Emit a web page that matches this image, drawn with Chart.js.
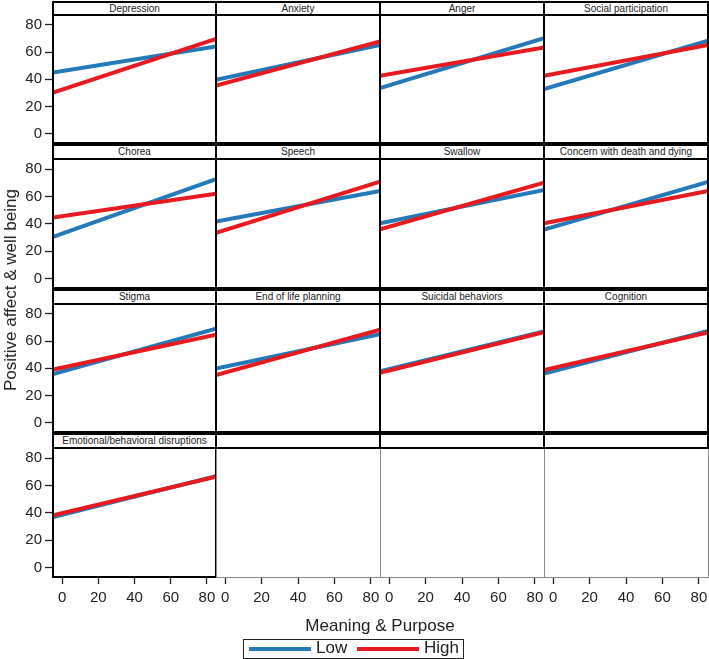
<!DOCTYPE html>
<html>
<head>
<meta charset="utf-8">
<script src="https://cdn.jsdelivr.net/npm/chart.js@4/dist/chart.umd.min.js"></script>
<style>
  html, body { margin: 0; padding: 0; background: #fff; }
  #wrap { position: relative; width: 709px; height: 659px; overflow: hidden; font-family: "Liberation Sans", Arial, sans-serif; color: #222; }
  canvas { position: absolute; }
  .box { position: absolute; box-sizing: border-box; }
  .strip { position: absolute; box-sizing: border-box; border: 2px solid #000; background: #fff; font-size: 10px; text-align: center; line-height: 11px; color: #222; white-space: nowrap; overflow: hidden; }
  .txt { position: absolute; white-space: nowrap; color: #222; }
</style>
</head>
<body>
<div id="wrap"></div>
<script>
// ---------- data ----------
const panels = ["Depression", "Anxiety", "Anger", "Social participation",
  "Chorea", "Speech", "Swallow", "Concern with death and dying",
  "Stigma", "End of life planning", "Suicidal behaviors", "Cognition",
  "Emotional/behavioral disruptions"];
const xEnds = [-5, 85];           // Meaning & Purpose at the panel edges
const lowLeft   = [45.0, 39.6, 33.5, 32.8, 30.5, 41.6, 40.4, 35.9, 35.7, 39.9, 37.8, 36.2, 36.9];
const lowRight  = [64.1, 65.3, 70.2, 68.5, 72.6, 63.9, 64.7, 70.6, 69.2, 65.1, 67.2, 67.5, 66.8];
const highLeft  = [30.3, 35.5, 42.6, 42.6, 44.6, 33.5, 36.0, 40.4, 39.2, 35.0, 36.7, 38.7, 38.2];
const highRight = [69.7, 67.8, 63.4, 65.3, 62.0, 70.8, 70.1, 63.9, 64.8, 68.5, 66.5, 66.3, 66.3];
const xTicks = [0, 20, 40, 60, 80];
const yTicks = [0, 20, 40, 60, 80];
const seriesNames = ["Low", "High"];

// ---------- layout ----------
const BLUE = "#2479b8", RED = "#e8191f";
const colL = [53, 216, 380, 544], colR = [216, 380, 544, 708];
const stripT = [1, 144, 289, 433];
const plotT = [15, 159, 304, 448], plotB = [143, 288, 432, 577];
const canvasBottom = 612;
const wrap = document.getElementById("wrap");
const FONT = { family: "'Liberation Sans', Arial, sans-serif", size: 15 };

function addDiv(cls, l, t, w, h, style, text) {
  const d = document.createElement("div");
  d.className = cls;
  d.style.left = l + "px"; d.style.top = t + "px";
  d.style.width = w + "px"; d.style.height = h + "px";
  if (style) Object.assign(d.style, style);
  if (text !== undefined) d.textContent = text;
  wrap.appendChild(d);
  return d;
}

for (let r = 0; r < 4; r++) {
  for (let c = 0; c < 4; c++) {
    const i = r * 4 + c;
    const hasData = i < panels.length;
    const showY = c === 0, showX = r === 3;
    const cl = showY ? 0 : colL[c];
    const ct = plotT[r];
    const cw = colR[c] - cl;
    const ch = (showX ? canvasBottom : plotB[r]) - ct;
    const cv = document.createElement("canvas");
    cv.width = cw; cv.height = ch;
    cv.style.left = cl + "px"; cv.style.top = ct + "px";
    cv.style.width = cw + "px"; cv.style.height = ch + "px";
    wrap.appendChild(cv);

    const datasets = hasData ? [
      { label: seriesNames[0], data: [{x: xEnds[0], y: lowLeft[i]}, {x: xEnds[1], y: lowRight[i]}],
        borderColor: BLUE, borderWidth: 4, pointRadius: 0, clip: 0, order: 2 },
      { label: seriesNames[1], data: [{x: xEnds[0], y: highLeft[i]}, {x: xEnds[1], y: highRight[i]}],
        borderColor: RED, borderWidth: 4, pointRadius: 0, clip: 0, order: 1 }
    ] : [];

    new Chart(cv, {
      type: "line",
      data: { datasets },
      options: {
        responsive: false, animation: false, devicePixelRatio: 1,
        layout: { padding: 0 },
        plugins: { legend: { display: false }, tooltip: { enabled: false } },
        scales: {
          x: {
            type: "linear", min: -5, max: 85, display: showX,
            afterBuildTicks: s => { s.ticks = xTicks.map(v => ({ value: v })); },
            afterFit: s => {
              if (showX) s.height = canvasBottom - plotB[r];
              s.paddingLeft = 0; s.paddingRight = 0;
            },
            grid: { drawOnChartArea: false, drawTicks: true, tickLength: 7, tickColor: "#222", tickWidth: 1.3 },
            border: { display: false },
            ticks: { font: FONT, color: "#222", padding: 5, maxRotation: 0, autoSkip: false }
          },
          y: {
            type: "linear", min: -6.8, max: 87.3, display: showY,
            afterBuildTicks: s => { s.ticks = yTicks.map(v => ({ value: v })); },
            afterFit: s => {
              if (showY) s.width = colL[0];
              s.paddingTop = 0; s.paddingBottom = 0;
            },
            grid: { drawOnChartArea: false, drawTicks: true, tickLength: 8, tickColor: "#222", tickWidth: 1.3 },
            border: { display: false },
            ticks: { font: FONT, color: "#222", padding: 3, autoSkip: false }
          }
        }
      }
    });

    // panel frame
    const w = colR[c] - colL[c], h = plotB[r] - plotT[r];
    if (hasData) {
      addDiv("box", colL[c] - 1, plotT[r] - 1, w + 2, h + 2, { border: "2px solid #000" });
    } else {
      addDiv("box", colL[c], plotT[r], w + 1, h + 1, { border: "1px solid #888" });
    }
    // strip
    addDiv("strip", colL[c] - 1, stripT[r], w + 2, plotT[r] - stripT[r] + 1, null, hasData ? panels[i] : "");
  }
}

// axis titles
addDiv("txt", 0, 0, 0, 0, { fontSize: "17px", left: "11px", top: "290px", width: "auto", height: "auto",
  transform: "translate(-50%, -50%) rotate(-90deg)" }, "Positive affect & well being");
addDiv("txt", 0, 0, 0, 0, { fontSize: "17px", left: "380px", top: "626px", width: "auto", height: "auto",
  transform: "translate(-50%, -50%)" }, "Meaning & Purpose");

// legend
addDiv("box", 243, 639, 221, 20, { border: "1px solid #222" });
addDiv("box", 249, 647, 62, 4, { background: BLUE });
addDiv("txt", 316, 638, 40, 20, { fontSize: "17px", lineHeight: "20px" }, seriesNames[0]);
addDiv("box", 357, 647, 62, 4, { background: RED });
addDiv("txt", 424, 638, 40, 20, { fontSize: "17px", lineHeight: "20px" }, seriesNames[1]);
</script>
</body>
</html>
